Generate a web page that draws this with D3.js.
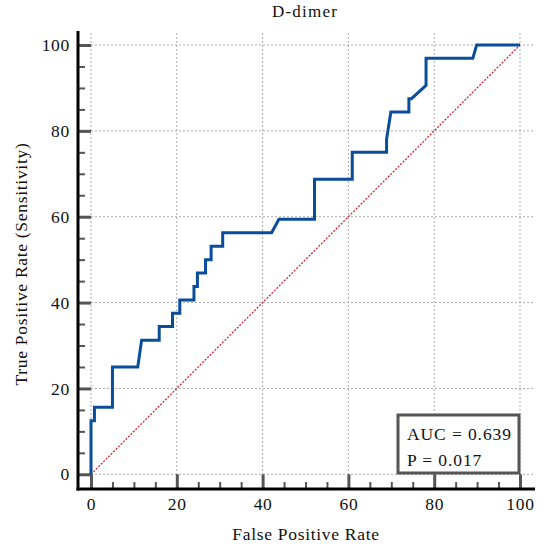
<!DOCTYPE html>
<html>
<head>
<meta charset="utf-8">
<script src="https://cdn.jsdelivr.net/npm/d3@7"></script>
<style>
  body { margin: 0; background: #fff; }
  text { font-family: "Liberation Serif", "DejaVu Serif", serif; fill: #111; }
</style>
</head>
<body>
<div id="chart"></div>
<script>
// ROC curve points (false positive rate %, true positive rate %)
var fpr = [0, 0, 0.8, 0.8, 5.0, 5.0, 10.9, 11.8, 15.9, 15.9, 19.0, 19.0, 20.7, 20.7, 24.0, 24.0, 24.8, 24.8,
           26.7, 26.7, 28.0, 28.0, 30.7, 30.7, 42.1, 43.8, 52.1, 52.1, 60.9, 60.9, 68.9, 68.9, 69.9,
           74.1, 74.1, 74.7, 78.1, 78.1, 89.0, 89.9, 100];
var tpr = [0, 12.5, 12.5, 15.6, 15.6, 25.0, 25.0, 31.25, 31.25, 34.4, 34.4, 37.5, 37.5, 40.6, 40.6, 43.75, 43.75, 46.9,
           46.9, 50.0, 50.0, 53.1, 53.1, 56.25, 56.25, 59.4, 59.4, 68.75, 68.75, 75.0, 75.0, 78.1, 84.4,
           84.4, 87.5, 87.5, 90.6, 96.9, 96.9, 100, 100];
var majorTicks = [0, 20, 40, 60, 80, 100];
var minorTicks = [5, 10, 15, 25, 30, 35, 45, 50, 55, 65, 70, 75, 85, 90, 95];
var statLines = ["AUC = 0.639", "P = 0.017"];

var svgWidth = 550, svgHeight = 552;
var axisX = 78, axisY = 489;
var fontSize = 17.5, spacing = 0.7;

var svg = d3.select("#chart").append("svg")
    .attr("width", svgWidth)
    .attr("height", svgHeight);

var x = d3.scaleLinear().domain([0, 100]).range([91, 520]);
var y = d3.scaleLinear().domain([0, 100]).range([474.3, 45]);

// gridlines
svg.append("g").selectAll("line.h")
    .data(majorTicks).enter().append("line")
    .attr("x1", x(0)).attr("x2", 533)
    .attr("y1", d => y(d)).attr("y2", d => y(d))
    .attr("stroke", "#aaa").attr("stroke-width", 1).attr("stroke-dasharray", "2,2");
svg.append("g").selectAll("line.v")
    .data(majorTicks).enter().append("line")
    .attr("y1", 33).attr("y2", axisY)
    .attr("x1", d => x(d)).attr("x2", d => x(d))
    .attr("stroke", "#aaa").attr("stroke-width", 1).attr("stroke-dasharray", "2,2");

// y axis ticks (pointing inward) and labels
svg.append("g")
    .attr("transform", `translate(${axisX},0)`)
    .call(d3.axisRight(y).tickValues(majorTicks).tickSize(x(0) - axisX).tickFormat(""))
    .call(g => g.select(".domain").remove())
    .call(g => g.selectAll("line").attr("stroke", "#555").attr("stroke-width", 3));
svg.append("g")
    .attr("transform", `translate(${axisX},0)`)
    .call(d3.axisRight(y).tickValues(minorTicks).tickSize(7).tickFormat(""))
    .call(g => g.select(".domain").remove())
    .call(g => g.selectAll("line").attr("stroke", "#555").attr("stroke-width", 2));
svg.append("g")
    .attr("transform", `translate(${axisX},0)`)
    .call(d3.axisLeft(y).tickValues(majorTicks).tickSize(0).tickPadding(8))
    .call(g => g.select(".domain").remove())
    .call(g => g.selectAll("text").attr("font-size", fontSize).attr("letter-spacing", spacing)
        .attr("font-family", "Liberation Serif").attr("fill", "#111"));

// x axis ticks and labels
svg.append("g")
    .attr("transform", `translate(0,${axisY})`)
    .call(d3.axisTop(x).tickValues(majorTicks).tickSize(axisY - y(0)).tickFormat(""))
    .call(g => g.select(".domain").remove())
    .call(g => g.selectAll("line").attr("stroke", "#555").attr("stroke-width", 3));
svg.append("g")
    .attr("transform", `translate(0,${axisY})`)
    .call(d3.axisTop(x).tickValues(minorTicks).tickSize(7).tickFormat(""))
    .call(g => g.select(".domain").remove())
    .call(g => g.selectAll("line").attr("stroke", "#555").attr("stroke-width", 2));
svg.append("g")
    .attr("transform", `translate(0,${axisY})`)
    .call(d3.axisBottom(x).tickValues(majorTicks).tickSize(0).tickPadding(9))
    .call(g => g.select(".domain").remove())
    .call(g => g.selectAll("text").attr("font-size", fontSize).attr("letter-spacing", spacing)
        .attr("font-family", "Liberation Serif").attr("fill", "#111"));

// axis lines
svg.append("line")
    .attr("x1", axisX).attr("x2", axisX).attr("y1", 31).attr("y2", axisY + 1.5)
    .attr("stroke", "#000").attr("stroke-width", 3);
svg.append("line")
    .attr("x1", axisX - 1.5).attr("x2", 535).attr("y1", axisY).attr("y2", axisY)
    .attr("stroke", "#000").attr("stroke-width", 3);

// diagonal reference
svg.append("line")
    .attr("x1", x(0)).attr("y1", y(0)).attr("x2", x(100)).attr("y2", y(100))
    .attr("stroke", "#c0202a").attr("stroke-width", 1.2).attr("stroke-dasharray", "2,1.5");

// ROC curve
var line = d3.line()
    .x(d => x(d[0]))
    .y(d => y(d[1]));
svg.append("path")
    .datum(d3.zip(fpr, tpr))
    .attr("d", line)
    .attr("fill", "none")
    .attr("stroke", "#0a4d9b")
    .attr("stroke-width", 3)
    .attr("stroke-linejoin", "miter");

// stats box
svg.append("rect")
    .attr("x", 398).attr("y", 415).attr("width", 121).attr("height", 58)
    .attr("fill", "#fff").attr("stroke", "#555").attr("stroke-width", 3);
svg.selectAll("text.stat")
    .data(statLines).enter().append("text")
    .attr("class", "stat")
    .attr("x", 407)
    .attr("y", (d, i) => 440 + i * 26)
    .attr("font-size", fontSize)
    .attr("letter-spacing", 0.9)
    .text(d => d);

// titles
svg.append("text")
    .attr("x", 305).attr("y", 17)
    .attr("text-anchor", "middle")
    .attr("font-size", 17)
    .attr("letter-spacing", 1.2)
    .text("D-dimer");
svg.append("text")
    .attr("x", 306).attr("y", 540)
    .attr("text-anchor", "middle")
    .attr("font-size", fontSize)
    .attr("letter-spacing", spacing)
    .text("False Positive Rate");
svg.append("text")
    .attr("transform", "translate(27,264) rotate(-90)")
    .attr("text-anchor", "middle")
    .attr("font-size", fontSize)
    .attr("letter-spacing", spacing)
    .text("True Positive Rate (Sensitivity)");
</script>
</body>
</html>
